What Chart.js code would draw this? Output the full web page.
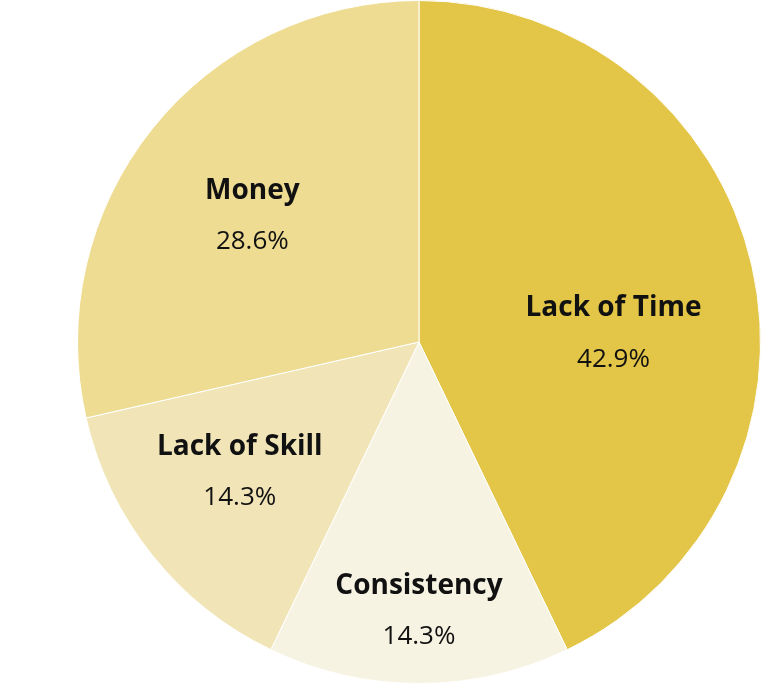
<!DOCTYPE html>
<html>
<head>
<meta charset="utf-8">
<script src="https://cdn.jsdelivr.net/npm/chart.js@4"></script>
<style>
  html, body { margin: 0; padding: 0; background: #fff; }
</style>
</head>
<body>
<canvas id="pie" width="772" height="690"></canvas>
<script>
const categories = ["Lack of Time", "Consistency", "Lack of Skill", "Money"];
const values = [42.9, 14.3, 14.3, 28.6];
const colors = ["#E3C547", "#F7F3E2", "#F1E5B7", "#EEDC92"];
// label placement: fraction of radius, and a small turn (degrees) off the slice middle
const labelRadius = [0.57, 0.79, 0.65, 0.61];
const labelTurn = [10.6, 0, 2.4, -1.7];

const sliceLabels = {
  id: "sliceLabels",
  afterDatasetsDraw(chart) {
    const { ctx } = chart;
    const meta = chart.getDatasetMeta(0);
    ctx.save();
    ctx.textAlign = "center";
    ctx.textBaseline = "middle";
    ctx.fillStyle = "#111";
    meta.data.forEach((arc, i) => {
      const mid = (arc.startAngle + arc.endAngle) / 2 + labelTurn[i] * Math.PI / 180;
      const r = arc.outerRadius * labelRadius[i];
      const x = arc.x + Math.cos(mid) * r;
      const y = arc.y + Math.sin(mid) * r;
      ctx.font = "bold 28px 'Open Sans'";
      ctx.fillText(categories[i], x, y - 26);
      ctx.font = "26px 'Open Sans'";
      ctx.fillText(values[i].toFixed(1) + "%", x, y + 25);
    });
    ctx.restore();
  },
};

new Chart(document.getElementById("pie"), {
  type: "pie",
  data: {
    labels: categories,
    datasets: [{
      data: values,
      backgroundColor: colors,
      borderColor: "#ffffff",
      borderWidth: 1,
    }],
  },
  options: {
    responsive: false,
    animation: false,
    layout: { padding: { left: 77, right: 11, top: 0, bottom: 6 } },
    plugins: { legend: { display: false }, tooltip: { enabled: false } },
  },
  plugins: [sliceLabels],
});
</script>
</body>
</html>
